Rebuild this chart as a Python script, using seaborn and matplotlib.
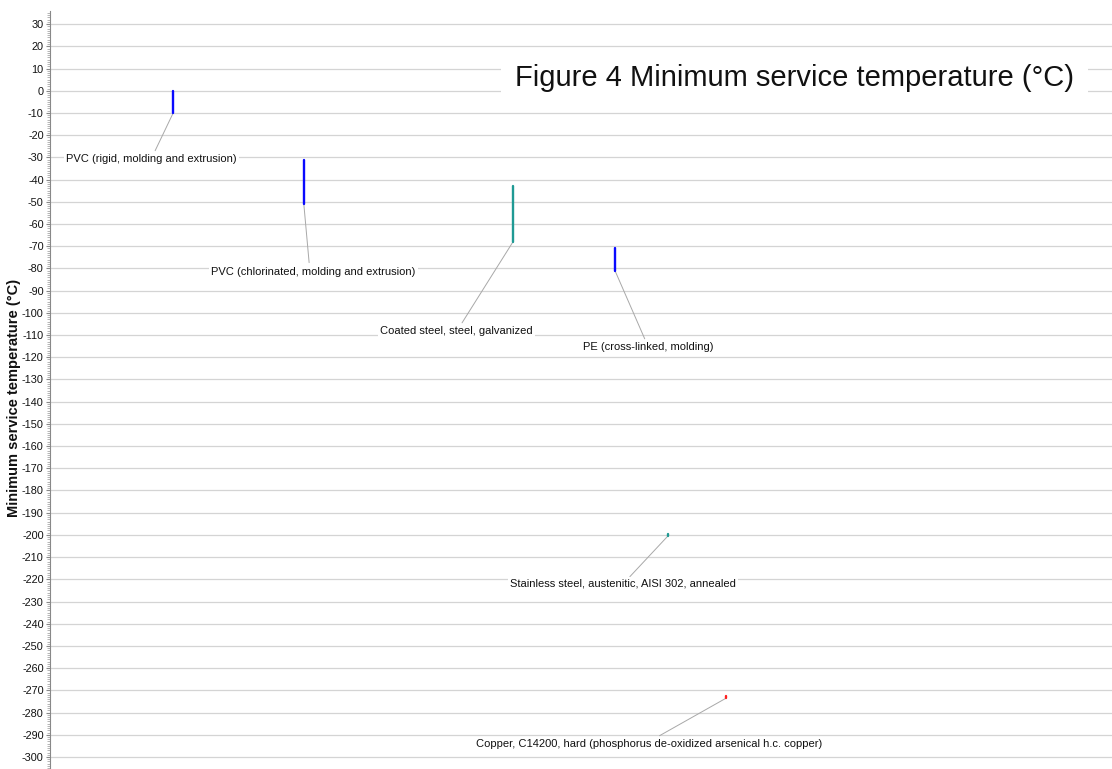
import matplotlib
matplotlib.use("Agg")
import matplotlib.pyplot as plt
from matplotlib.ticker import MultipleLocator
import seaborn as sns
import pandas as pd

sns.set_theme(style="white")
plt.rcParams["font.family"] = ["Liberation Sans", "DejaVu Sans"]
plt.rcParams["axes.unicode_minus"] = False

# Materials and their minimum service temperature ranges (°C)
materials = [
    "PVC (rigid, molding and extrusion)",
    "PVC (chlorinated, molding and extrusion)",
    "Coated steel, steel, galvanized",
    "PE (cross-linked, molding)",
    "Stainless steel, austenitic, AISI 302, annealed",
    "Copper, C14200, hard (phosphorus de-oxidized arsenical h.c. copper)",
]
t_high = [0, -31, -43, -71, -199.6, -272.6]
t_low = [-10, -51, -68, -81, -200.4, -273.4]
# horizontal spread of each record across the chart
spread = [11.6, 23.9, 43.6, 53.2, 58.2, 63.7]
family = ["Plastic", "Plastic", "Steel", "Plastic", "Steel", "Copper"]

palette = {"Plastic": "#0a0aff", "Steel": "#1f9a94", "Copper": "#ff2020"}

# label centres and leader-line end points, in data units
label_x = [9.56, 24.8, 38.3, 56.3, 53.95, 56.45]
label_y = [-30.6, -81.5, -108.1, -115.3, -222.0, -294.0]
leader_x = [9.9, 24.4, 38.8, 56.0, 54.6, 57.4]
leader_y = [-27.0, -77.4, -104.5, -111.7, -218.8, -290.4]

records = pd.DataFrame({"material": materials, "high": t_high, "low": t_low,
                        "x": spread, "family": family})
bars = pd.concat([
    records.assign(temp=records["high"]),
    records.assign(temp=records["low"]),
], ignore_index=True)

fig = plt.figure(figsize=(11.12, 7.69), dpi=100)
ax = fig.add_axes([50 / 1112, 0.0, 1 - 50 / 1112, 1 - 11 / 769])

# vertical bars for each temperature range
sns.lineplot(data=bars, x="x", y="temp", units="material", estimator=None,
             hue="family", palette=palette, sort=False, linewidth=1.7,
             legend=False, ax=ax, zorder=4)

ax.set_xlim(0, 100)
ax.set_ylim(-305.4, 35.9)

# leader lines and labels
for i, r in records.iterrows():
    ax.plot([r["x"], leader_x[i]], [r["low"], leader_y[i]], color="#a8a8a8",
            linewidth=0.7, zorder=3)
    ax.text(label_x[i], label_y[i], r["material"], ha="center", va="center",
            fontsize=8.0, color="#111111", zorder=5,
            bbox=dict(facecolor="white", edgecolor="none", pad=1.5))

ax.yaxis.set_major_locator(MultipleLocator(10))
ax.yaxis.set_minor_locator(MultipleLocator(1))
ax.grid(axis="y", which="major", color="#d4d4d4", linewidth=0.9)
ax.set_axisbelow(True)
ax.tick_params(axis="y", which="major", length=3, width=0.8, color="#888888",
               labelsize=7.8, pad=1.5, labelcolor="#111111", left=True)
ax.tick_params(axis="y", which="minor", length=2, width=0.5, color="#999999", left=True)
ax.set_xticks([])
ax.set_xlabel("")

for s in ["top", "right", "bottom"]:
    ax.spines[s].set_visible(False)
ax.spines["left"].set_color("#888888")
ax.spines["left"].set_linewidth(0.8)

ax.set_ylabel("Minimum service temperature (°C)", fontsize=10.5, fontweight="bold",
              color="#111111")
ax.yaxis.set_label_coords(-0.0275, 0.49)

ax.text(0.701, 0.912, "Figure 4 Minimum service temperature (°C)", transform=ax.transAxes,
        ha="center", va="center", fontsize=21, color="#111111", zorder=6,
        bbox=dict(facecolor="white", edgecolor="none", pad=10))

fig.savefig("out.png", dpi=100)
